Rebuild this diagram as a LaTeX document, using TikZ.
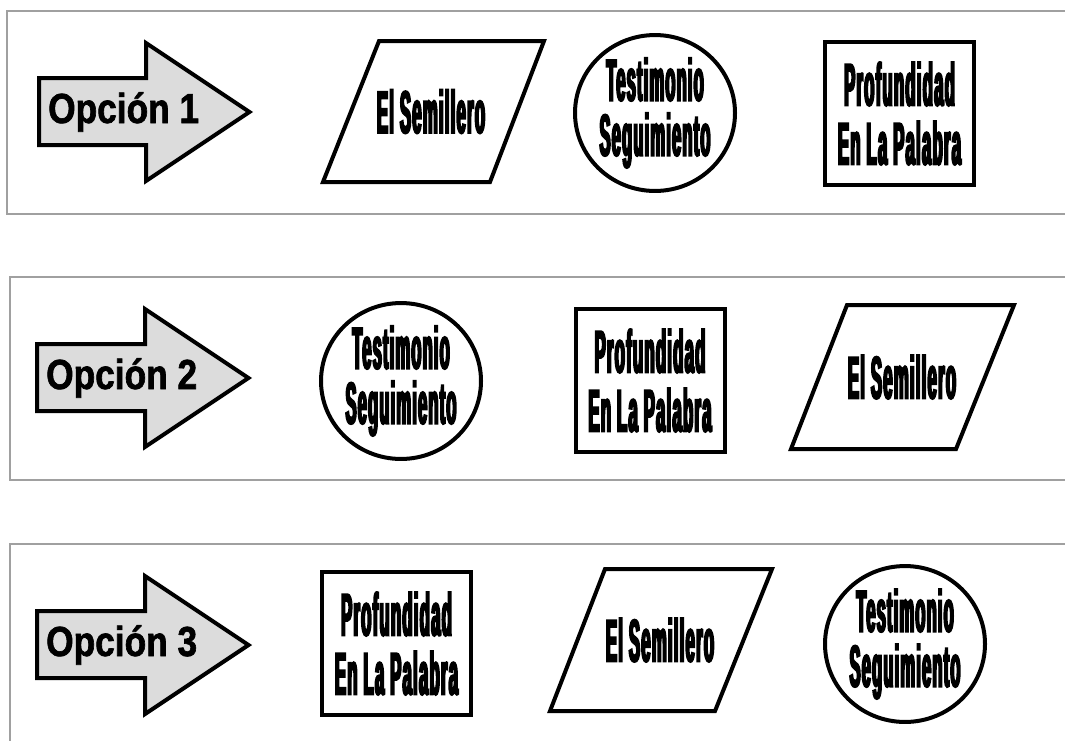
\documentclass[tikz,border=0pt]{standalone}
\usepackage{fontspec}
\usetikzlibrary{shapes.geometric}
\newfontfamily\cfont[FakeStretch=0.28,FakeBold=3,LetterSpace=2]{Liberation Sans Bold}
\newfontfamily\afont[FakeStretch=0.84,FakeBold=1.5]{Liberation Sans Bold}
\definecolor{panelgray}{RGB}{160,160,160}
\definecolor{arrowfill}{RGB}{220,220,220}
\begin{document}
\begin{tikzpicture}[x=1pt,y=-1pt,line join=miter,
  panel/.style={draw=panelgray,line width=1.6pt},
  arrowshape/.style={draw=black,line width=4pt,fill=arrowfill},
  parashape/.style={draw=black,line width=4pt,fill=white},
  ovalbox/.style={ellipse,draw=black,line width=4pt,minimum width=160pt,minimum height=149pt,inner sep=0pt,align=center,font=\cfont\fontsize{59}{55}\selectfont},
  rectbox/.style={rectangle,draw=black,line width=4pt,minimum width=149pt,minimum height=143pt,inner sep=0pt,align=center,font=\cfont\fontsize{60}{59}\selectfont},
  paratext/.style={inner sep=0pt,font=\cfont\fontsize{60}{59}\selectfont},
  optlabel/.style={anchor=base west,inner sep=0pt,font=\afont\fontsize{42}{44}\selectfont}]
\useasboundingbox[fill=white] (0,0) rectangle (1065,740);
% panels
\draw[panel] (1070,11) -- (7,11) -- (7,214) -- (1070,214);
\draw[panel] (1070,277) -- (10,277) -- (10,480) -- (1070,480);
\draw[panel] (1070,544) -- (10,544) -- (10,745);
% arrows
\draw[arrowshape] (39,78) -- (146,78) -- (146,43) -- (249.5,112) -- (146,181) -- (146,145) -- (39,145) -- cycle;
\node[optlabel] (o1) at (48,123) {Opción 1};
\begin{scope}[shift={(0,266)}]
\draw[arrowshape] (37,78) -- (145,78) -- (145,43) -- (248.5,112) -- (145,181) -- (145,145) -- (37,145) -- cycle;
\node[optlabel] (o2) at (46,123) {Opción 2};
\end{scope}
\begin{scope}[shift={(0,533)}]
\draw[arrowshape] (37,78) -- (145,78) -- (145,43) -- (248.5,112) -- (145,181) -- (145,145) -- (37,145) -- cycle;
\node[optlabel] (o3) at (46,123) {Opción 3};
\end{scope}
% row 1
\draw[parashape] (379,41) -- (544,41) -- (490,182) -- (323,182) -- cycle;
\node[paratext] (s1) at (431,111.5) {El Semillero};
\node[ovalbox] (t1) at (655,113) {Testimonio\\Seguimiento};
\node[rectbox] (p1) at (899.5,113.5) {Profundidad\\En La Palabra};
% row 2
\node[ovalbox] (t2) at (401,381) {Testimonio\\Seguimiento};
\node[rectbox] (p2) at (650,380.5) {Profundidad\\En La Palabra};
\draw[parashape] (847,305) -- (1014,305) -- (956,449) -- (791,449) -- cycle;
\node[paratext] (s2) at (902,377) {El Semillero};
% row 3
\node[rectbox] (p3) at (396.5,643.5) {Profundidad\\En La Palabra};
\draw[parashape] (605,569) -- (772,569) -- (715,711) -- (550,711) -- cycle;
\node[paratext] (s3) at (660,640) {El Semillero};
\node[ovalbox] (t3) at (905,644) {Testimonio\\Seguimiento};
\end{tikzpicture}
\end{document}
